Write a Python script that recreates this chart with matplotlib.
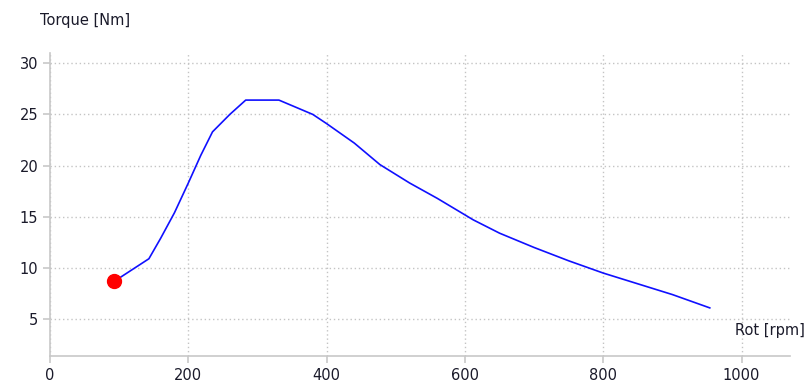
import matplotlib
matplotlib.use("Agg")
import matplotlib.pyplot as plt

# torque curve
rpm = [93, 143, 160, 180, 200, 218, 235, 260, 283, 331, 380, 400, 440, 477,
       520, 560, 612, 650, 700, 750, 800, 850, 900, 954]
torque = [8.7, 10.9, 12.9, 15.4, 18.3, 21.0, 23.3, 25.0, 26.4, 26.4, 25.0,
          24.1, 22.2, 20.1, 18.3, 16.8, 14.7, 13.4, 12.0, 10.7, 9.5, 8.45,
          7.4, 6.1]
current = (93, 8.7)

xticks = [0, 200, 400, 600, 800, 1000]
yticks = [5, 10, 15, 20, 25, 30]

fig = plt.figure(figsize=(8.08, 3.82), dpi=100)
ax = fig.add_axes([50 / 808, 26 / 382, 740 / 808, 303 / 382])

ax.plot(rpm, torque, color="#1010ff", lw=1.2)
ax.plot(*current, "o", color="#ff0000", ms=10)

ax.set_xlim(0, 1070)
ax.set_ylim(1.4, 31)
ax.set_xticks(xticks)
ax.set_yticks(yticks)
ax.grid(True, color="#c4c4c4", ls=(0, (1, 2)), lw=1)

for s in ("top", "right"):
    ax.spines[s].set_visible(False)
for s in ("left", "bottom"):
    ax.spines[s].set_color("#c8c8c8")
    ax.spines[s].set_linewidth(1.2)
ax.tick_params(colors="#c8c8c8", labelcolor="#1a1a2a", labelsize=10.5,
               length=5, width=1.2)

fig.text(40 / 808, 1 - 20 / 382, "Torque [Nm]", fontsize=10.5,
         color="#1a1a2a", va="center", ha="left")
fig.text(805 / 808, 1 - 331 / 382, "Rot [rpm]", fontsize=10.5,
         color="#1a1a2a", va="center", ha="right")

fig.savefig("out.png", dpi=100)
